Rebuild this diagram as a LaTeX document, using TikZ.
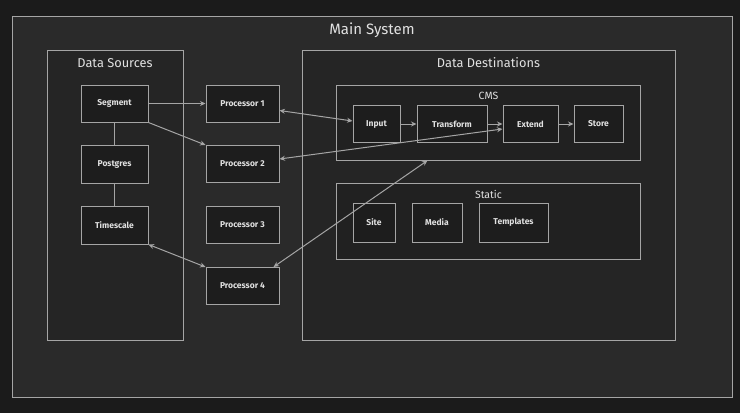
\documentclass[tikz,border=0pt]{standalone}
\usepackage{fontspec}
\setmainfont{Fira Sans}
\usetikzlibrary{arrows.meta,positioning}
\definecolor{bgcolor}{RGB}{27,27,27}
\definecolor{maincolor}{RGB}{42,42,42}
\definecolor{groupcolor}{RGB}{37,37,37}
\definecolor{subcolor}{RGB}{33,33,33}
\definecolor{boxcolor}{RGB}{29,29,29}
\definecolor{linecolor}{RGB}{165,165,165}
\definecolor{textcolor}{RGB}{225,225,225}

\begin{document}
\begin{tikzpicture}[x=1pt,y=-1pt,
    container/.style={draw=linecolor,line width=1pt,inner sep=0pt},
    title/.style={text=textcolor,inner sep=0pt},
    procbox/.style={draw=linecolor,line width=1pt,fill=boxcolor,text=textcolor,
        font=\bfseries\fontsize{8.5}{10}\selectfont,inner sep=0pt},
    link/.style={draw=linecolor,line width=1pt},
    flow/.style={link,-{Stealth[length=5.5pt,width=5pt]}},
    biflow/.style={link,{Stealth[length=5.5pt,width=5pt]}-{Stealth[length=5.5pt,width=5pt]}}]
    % Draw background
    \fill[bgcolor] (0,0) rectangle (740,413);
    \useasboundingbox (0,0) rectangle (740,413);

    % Draw containers
    \node[container,fill=maincolor,minimum width=720pt,minimum height=381pt] (mainsys) at (372,206.5) {};
    \node[title,font=\fontsize{15}{17}\selectfont] (maintitle) at (372,30) {Main System};
    \node[container,fill=groupcolor,minimum width=136pt,minimum height=290pt] (sources) at (115,195) {};
    \node[title,font=\fontsize{12.8}{15}\selectfont] (sourcestitle) at (115,63) {Data Sources};
    \node[container,fill=groupcolor,minimum width=373pt,minimum height=290pt] (dests) at (488.5,195) {};
    \node[title,font=\fontsize{12.8}{15}\selectfont] (deststitle) at (488.5,63) {Data Destinations};
    \node[container,fill=subcolor,minimum width=304pt,minimum height=75pt] (cms) at (488.5,122.5) {};
    \node[title,font=\fontsize{10.5}{12}\selectfont] (cmstitle) at (488.5,96) {CMS};
    \node[container,fill=subcolor,minimum width=304pt,minimum height=76pt] (static) at (488.5,221) {};
    \node[title,font=\fontsize{10.5}{12}\selectfont] (statictitle) at (488.5,194) {Static};

    % Draw sources
    \node[procbox,minimum width=67pt,minimum height=37pt] (segment) at (114.5,103.5) {Segment};
    \node[procbox,minimum width=67pt,minimum height=38pt] (postgres) at (114.5,164) {Postgres};
    \node[procbox,minimum width=67pt,minimum height=38pt] (timescale) at (114.5,225) {Timescale};

    % Draw processors
    \foreach \i/\y in {1/103.5,2/164,3/225,4/286} {
        \node[procbox,minimum width=73pt,minimum height=37pt] (proc\i) at (242.5,\y) {Processor \i};
    }

    % Draw CMS steps
    \node[procbox,minimum width=47pt,minimum height=37pt] (input) at (376.5,124) {Input};
    \node[procbox,minimum width=70pt,minimum height=37pt] (transform) at (452,124) {Transform};
    \node[procbox,minimum width=55pt,minimum height=37pt] (extend) at (530.5,124) {Extend};
    \node[procbox,minimum width=49pt,minimum height=37pt] (store) at (598.5,124) {Store};

    % Draw static parts
    \node[procbox,minimum width=42pt,minimum height=39pt] (site) at (374,222.5) {Site};
    \node[procbox,minimum width=50pt,minimum height=39pt] (media) at (437,222.5) {Media};
    \node[procbox,minimum width=69pt,minimum height=39pt] (templates) at (513.5,222.5) {Templates};

    % Draw connections
    \draw[link] (segment) -- (postgres);
    \draw[link] (postgres) -- (timescale);
    \draw[flow] (segment) -- (proc1);
    \draw[flow] (segment.south east) -- (proc2.north west);
    \draw[biflow] (timescale.south east) -- (proc4.north west);
    \draw[biflow] ([yshift=-7pt]proc1.east) -- ([yshift=3pt]input.west);
    \draw[biflow] ([yshift=5pt]proc2.east) -- ([yshift=-5pt]extend.west);
    \draw[biflow] ([xshift=-6pt]proc4.north east) -- ([xshift=-61pt]cms.south);
    \draw[flow] (input) -- (transform);
    \draw[flow] (transform) -- (extend);
    \draw[flow] (extend) -- (store);
\end{tikzpicture}
\end{document}
